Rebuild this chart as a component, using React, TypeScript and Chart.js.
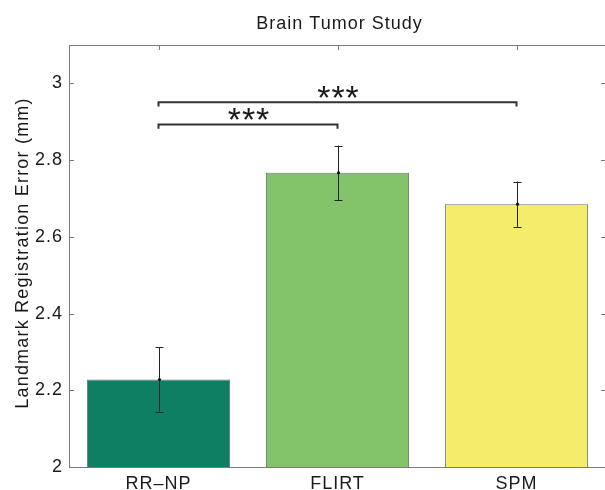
import React, { useEffect, useRef } from "react";
import { Chart, registerables } from "chart.js";

Chart.register(...registerables);

const categories = ["RR–NP", "FLIRT", "SPM"];
const means = [2.228, 2.767, 2.685];
const errors = [0.084, 0.071, 0.059];
const barColors = ["#0e7f63", "#83c36a", "#f6ec6b"];
const sigPairs: [number, number][] = [[0, 1], [0, 2]];
const sigLevels = [2.893, 2.951];
const sigLabels = ["***", "***"];
const title = "Brain Tumor Study";
const yTitle = "Landmark Registration Error (mm)";

const FONT = "'Liberation Sans', Arial, Helvetica, sans-serif";
const AXIS_COLOR = "#7a7a7a";

const customPlugin = {
  id: "custom",
  beforeDraw(chart: any) {
    const ctx = chart.ctx;
    (ctx as any).letterSpacing = "1px";
  },
  afterDatasetsDraw(chart: any) {
    const ctx = chart.ctx as CanvasRenderingContext2D;
    const { chartArea: ca, scales } = chart;
    const y = scales.y;
    const meta = chart.getDatasetMeta(0);
    ctx.save();
    (ctx as any).letterSpacing = "0px";
    // error bars
    ctx.strokeStyle = "#222";
    ctx.fillStyle = "#111";
    ctx.lineWidth = 1;
    meta.data.forEach((el: any, i: number) => {
      const x = Math.round(el.x) + 0.5;
      const yt = y.getPixelForValue(means[i] + errors[i]);
      const yb = y.getPixelForValue(means[i] - errors[i]);
      const ym = y.getPixelForValue(means[i]);
      ctx.beginPath();
      ctx.moveTo(x, yt);
      ctx.lineTo(x, yb);
      ctx.moveTo(x - 4, Math.round(yt) + 0.5);
      ctx.lineTo(x + 4, Math.round(yt) + 0.5);
      ctx.moveTo(x - 4, Math.round(yb) + 0.5);
      ctx.lineTo(x + 4, Math.round(yb) + 0.5);
      ctx.stroke();
      ctx.beginPath();
      ctx.arc(x, ym, 1.6, 0, Math.PI * 2);
      ctx.fill();
    });
    // significance brackets
    ctx.strokeStyle = "#333";
    ctx.lineWidth = 2;
    ctx.fillStyle = "#1a1a1a";
    sigPairs.forEach(([a, b], k) => {
      const xa = meta.data[a].x;
      const xb = meta.data[b].x;
      const yl = y.getPixelForValue(sigLevels[k]);
      const yd = y.getPixelForValue(sigLevels[k] - 0.011);
      ctx.beginPath();
      ctx.moveTo(xa, yd);
      ctx.lineTo(xa, yl);
      ctx.lineTo(xb, yl);
      ctx.lineTo(xb, yd);
      ctx.stroke();
      ctx.font = `34px ${FONT}`;
      (ctx as any).letterSpacing = "1px";
      ctx.textAlign = "center";
      ctx.textBaseline = "alphabetic";
      const m = ctx.measureText(sigLabels[k]);
      const cy = yl - 10;
      const base = cy + (m.actualBoundingBoxAscent - m.actualBoundingBoxDescent) / 2;
      ctx.fillText(sigLabels[k], (xa + xb) / 2 + 1, base);
    });
    // axes box
    ctx.strokeStyle = AXIS_COLOR;
    ctx.lineWidth = 1;
    ctx.strokeRect(Math.round(ca.left) + 0.5, Math.round(ca.top) + 0.5, Math.round(ca.right - ca.left), Math.round(ca.bottom - ca.top));
    // inward ticks
    ctx.beginPath();
    y.ticks.forEach((t: any) => {
      const py = Math.round(y.getPixelForValue(t.value)) + 0.5;
      ctx.moveTo(ca.left, py);
      ctx.lineTo(ca.left + 5, py);
      ctx.moveTo(ca.right, py);
      ctx.lineTo(ca.right - 5, py);
    });
    meta.data.forEach((el: any) => {
      const px = Math.round(el.x) + 0.5;
      ctx.moveTo(px, ca.top);
      ctx.lineTo(px, ca.top + 5);
    });
    ctx.stroke();
    // title
    ctx.fillStyle = "#1a1a1a";
    (ctx as any).letterSpacing = "1px";
    ctx.font = `18px ${FONT}`;
    ctx.textAlign = "center";
    ctx.textBaseline = "alphabetic";
    ctx.fillText(title, (ca.left + ca.right) / 2 + 2, 29);
    // y title
    ctx.translate(28, (ca.top + ca.bottom) / 2 - 3);
    ctx.rotate(-Math.PI / 2);
    (ctx as any).letterSpacing = "1.2px";
    ctx.fillText(yTitle, 0, 0);
    ctx.restore();
  },
};

export default function App() {
  const ref = useRef<HTMLCanvasElement>(null);
  useEffect(() => {
    if (!ref.current) return;
    const chart = new Chart(ref.current, {
      type: "bar",
      data: {
        labels: categories,
        datasets: [
          {
            data: means,
            backgroundColor: barColors,
            borderColor: "rgba(70,70,70,0.75)",
            borderWidth: 1,
            barPercentage: 0.8,
            categoryPercentage: 1,
          },
        ],
      },
      options: {
        animation: false,
        responsive: false,
        maintainAspectRatio: false,
        layout: { padding: { top: 45, right: 6, left: 0, bottom: 0 } },
        plugins: { legend: { display: false }, title: { display: false }, tooltip: { enabled: false } },
        scales: {
          x: {
            grid: { display: false, drawTicks: false },
            border: { display: false },
            ticks: { color: "#1a1a1a", font: { family: FONT, size: 18 }, padding: 6 },
            afterFit: (s: any) => {
              s.height = 23;
            },
          },
          y: {
            min: 2,
            max: 3.1,
            grid: { display: false, drawTicks: false },
            border: { display: false },
            ticks: {
              stepSize: 0.2,
              includeBounds: false,
              color: "#1a1a1a",
              font: { family: FONT, size: 18 },
              padding: 6,
              callback: (v: any) => String(Math.round(Number(v) * 10) / 10),
            },
            afterFit: (s: any) => {
              s.width = 69;
            },
          },
        },
      },
      plugins: [customPlugin],
    });
    return () => chart.destroy();
  }, []);
  return (
    <div style={{ position: "absolute", left: 0, top: 0, width: 605, height: 490, overflow: "hidden", background: "#fff" }}>
      <canvas ref={ref} width={612} height={490} style={{ display: "block", width: 612, height: 490 }} />
    </div>
  );
}
